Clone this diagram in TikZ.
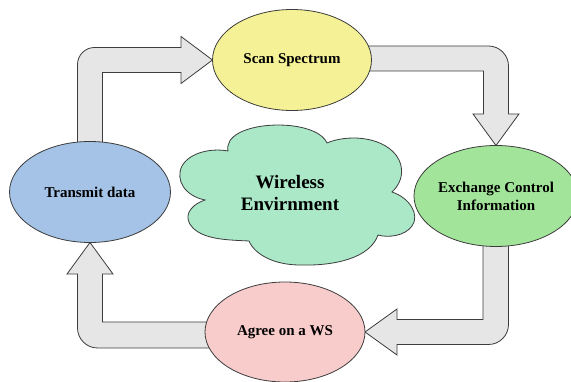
\documentclass[tikz,border=0pt]{standalone}
\usepackage{fontspec}
\setmainfont{Liberation Serif}
\usetikzlibrary{shapes.geometric}

\definecolor{scanfill}{RGB}{245,241,150}
\definecolor{transfill}{RGB}{164,195,230}
\definecolor{exchfill}{RGB}{162,228,154}
\definecolor{agreefill}{RGB}{249,204,204}
\definecolor{cloudfill}{RGB}{170,232,200}
\definecolor{arrowfill}{RGB}{230,230,230}
\definecolor{edgeline}{RGB}{60,60,60}

\tikzset{
  stage/.style={ellipse, draw=edgeline, line width=0.8pt, inner sep=0pt,
    align=center, font=\fontsize{15}{18}\selectfont\bfseries},
  blockarrow/.style={draw=edgeline, fill=arrowfill, line width=0.8pt, line join=miter},
  cloudline/.style={draw=edgeline, fill=cloudfill, line width=0.8pt},
}

\begin{document}
\begin{tikzpicture}[x=1pt, y=-1pt]
\useasboundingbox (0,0) rectangle (571,382);

% stage coordinates (ellipse centres)
\coordinate (cScan)  at (292,60);
\coordinate (cTrans) at (90,192);
\coordinate (cExch)  at (496,196);
\coordinate (cAgree) at (285,332);

% invisible anchors first so the arrows can refer to them
\path (cScan)  node[ellipse, minimum width=159pt, minimum height=101pt, inner sep=0pt, outer sep=0pt] (scan) {};
\path (cTrans) node[ellipse, minimum width=161pt, minimum height=101pt, inner sep=0pt, outer sep=0pt] (trans) {};
\path (cExch)  node[ellipse, minimum width=163pt, minimum height=101pt, inner sep=0pt, outer sep=0pt] (exch) {};
\path (cAgree) node[ellipse, minimum width=160pt, minimum height=100pt, inner sep=0pt, outer sep=0pt] (agree) {};

% block arrows (drawn beneath the stages)
\path[blockarrow] (scan.west) -- (181,83.5) -- (181,72.5) -- (102.5,72.5) -- (102.5,160)
  -- (77.5,160) -- (77.5,64.5) .. controls (77.5,55.1) and (85.1,47.5) .. (94.5,47.5)
  -- (181,47.5) -- (181,36.5) -- cycle;

\path[blockarrow] (exch.north) -- (473,114) -- (483.5,114) -- (483.5,71) -- (360,71)
  -- (360,46) -- (488.5,46) .. controls (499.5,46) and (508.5,55) .. (508.5,66)
  -- (508.5,114) -- (519,114) -- cycle;

\path[blockarrow] (agree.east) -- (397,309) -- (397,319.5) -- (483,319.5) -- (483,235)
  -- (508.5,235) -- (508.5,324.5) .. controls (508.5,335.5) and (499.5,344.5) .. (488.5,344.5)
  -- (397,344.5) -- (397,355) -- cycle;

\path[blockarrow] (trans.south) -- (113,274) -- (102.5,274) -- (102.5,322) -- (215,322)
  -- (215,348) -- (97.5,348) .. controls (86.5,348) and (77.5,339) .. (77.5,328)
  -- (77.5,274) -- (67,274) -- cycle;

% stages
\node[stage, fill=scanfill,  minimum width=159pt, minimum height=101pt] at (cScan)  {Scan Spectrum};
\node[stage, fill=transfill, minimum width=161pt, minimum height=101pt] at (cTrans) {Transmit data};
\node[stage, fill=exchfill,  minimum width=163pt, minimum height=101pt] at (cExch)  {Exchange Control\\Information};
\node[stage, fill=agreefill, minimum width=160pt, minimum height=100pt] at (cAgree) {Agree on a WS};

% cloud
\path[cloudline]
  (205,200) .. controls (185,196) and (175,180) .. (182,166)
            .. controls (190,152) and (212,148) .. (228,151)
            .. controls (222,120) and (315,116) .. (327,143)
            .. controls (345,135) and (380,135) .. (396,155)
            .. controls (405,167) and (403,182) .. (392,192)
            .. controls (410,198) and (420,215) .. (412,226)
            .. controls (405,236) and (388,238) .. (378,235)
            .. controls (370,258) and (335,266) .. (300,265)
            .. controls (275,265) and (255,255) .. (249,241)
            .. controls (230,240) and (205,240) .. (193,228)
            .. controls (183,218) and (188,206) .. (205,200) -- cycle;
\node[align=center, font=\fontsize{19}{22}\selectfont\bfseries] (env) at (290,193) {Wireless\\Envirnment};

\end{tikzpicture}
\end{document}
